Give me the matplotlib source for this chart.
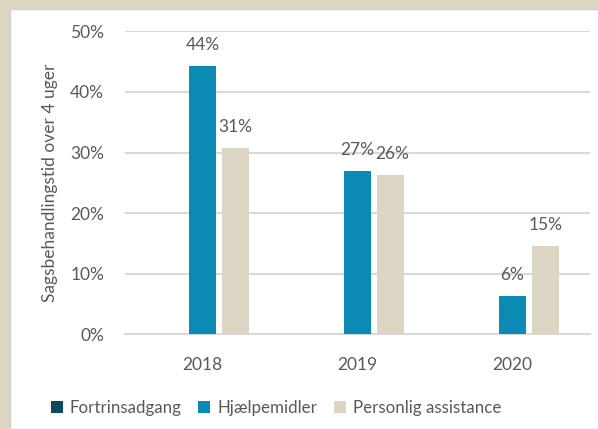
import matplotlib
matplotlib.use("Agg")
import matplotlib.pyplot as plt
from matplotlib.patches import Rectangle
import numpy as np

years = ["2018", "2019", "2020"]
series_names = ["Fortrinsadgang", "Hjælpemidler", "Personlig assistance"]
fortrinsadgang = [0, 0, 0]
hjaelpemidler = [44.3, 27.0, 6.3]
personlig = [30.8, 26.3, 14.5]
label_hj = ["44%", "27%", "6%"]
label_pa = ["31%", "26%", "15%"]
yticks = [0, 10, 20, 30, 40, 50]
ytick_labels = ["0%", "10%", "20%", "30%", "40%", "50%"]
ylabel = "Sagsbehandlingstid over 4 uger"

colors = ["#0b4a5e", "#0b8bb3", "#ddd5c3"]
txt = "#595959"
plt.rcParams['font.family'] = ['Lato', 'DejaVu Sans']
fs = 12.5

W, H = 598, 429
fig = plt.figure(figsize=(W/100, H/100), dpi=100, facecolor="#ddd5c3")
# white inner panel
bg = Rectangle((10/W, 0), 1 - 10/W + 0.01, 1 - 9/H, transform=fig.transFigure,
               facecolor="white", edgecolor="#d0d0d0", linewidth=1.0, zorder=-10)
fig.add_artist(bg)

ax = fig.add_axes([125/W, 1 - 334.3/H, (590-125)/W, (334.3-31.3)/H])
ax.set_facecolor("none")
x = np.arange(len(years))
slot = 33/155
bw = 27/155
data = [fortrinsadgang, hjaelpemidler, personlig]
for i, (vals, c, n) in enumerate(zip(data, colors, series_names)):
    ax.bar(x + (i-1)*slot, vals, width=bw, color=c, label=n, zorder=3)

for i in range(len(years)):
    ax.annotate(label_hj[i], (x[i], hjaelpemidler[i]), xytext=(0, 21), textcoords="offset pixels",
                ha="center", va="center", fontsize=fs, color=txt)
    ax.annotate(label_pa[i], (x[i]+slot, personlig[i]), xytext=(2 if i == 1 else 0, 21),
                textcoords="offset pixels", ha="center", va="center", fontsize=fs, color=txt)

ax.set_xlim(-0.5, 2.5)
ax.set_ylim(0, 50)
ax.set_yticks(yticks)
ax.set_yticklabels(ytick_labels)
ax.set_xticks(x)
ax.set_xticklabels(years)
ax.tick_params(length=0, labelsize=fs, labelcolor=txt)
ax.tick_params(axis='y', pad=15)
ax.tick_params(axis='x', pad=16)
ax.grid(axis='y', color="#d9d9d9", linewidth=1.5, zorder=0)
for s in ["top", "right", "left"]:
    ax.spines[s].set_visible(False)
ax.spines["bottom"].set_color("#d9d9d9")
ax.spines["bottom"].set_linewidth(1.5)
ax.set_ylabel(ylabel, fontsize=fs, color=txt, labelpad=9)

leg = fig.legend(loc="center", bbox_to_anchor=(276/W, 1 - 408/H), ncol=3, frameon=False,
                 fontsize=12.2, handlelength=0.7, handleheight=0.7, handletextpad=0.4,
                 columnspacing=1.0, labelcolor=txt)

fig.savefig("out.png", dpi=100, facecolor=fig.get_facecolor())
